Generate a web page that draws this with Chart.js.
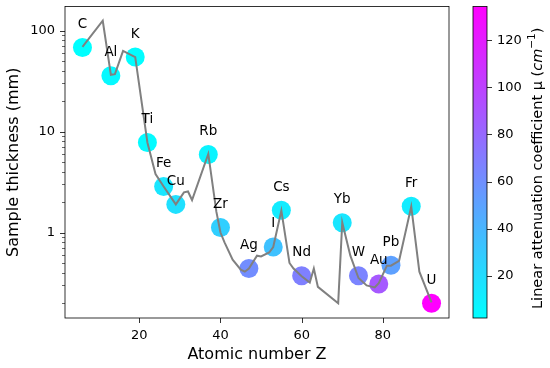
<!doctype html>
<html lang="en">
<head>
<meta charset="utf-8">
<title>Sample thickness vs atomic number</title>
<script src="https://cdn.jsdelivr.net/npm/chart.js@4.4.1/dist/chart.umd.min.js"></script>
<style>
    body { margin: 0; background: #fff; }
    #wrap { width: 550px; height: 368px; position: relative; }
</style>
</head>
<body>
<div id="wrap"><canvas id="myChart"></canvas></div>
<script>
// labelled elements (scatter markers)
const elements  = ['C', 'Al', 'K', 'Ti', 'Fe', 'Cu', 'Rb', 'Zr', 'Ag', 'I', 'Cs', 'Nd', 'Yb', 'W', 'Au', 'Pb', 'Fr', 'U'];
const elementZ  = [6, 13, 19, 22, 26, 29, 37, 40, 47, 53, 55, 60, 70, 74, 79, 82, 87, 92];
const thickness = [68, 35.7, 54.6, 7.8, 2.86, 1.9, 5.93, 1.12, 0.44, 0.72, 1.66, 0.373, 1.25, 0.373, 0.31, 0.475, 1.82, 0.2];
const mu        = [2.1, 5, 3, 4, 15, 18, 8, 27, 61, 34, 12, 68, 15, 66, 88, 51, 12, 134.3];

// gray curve
const curveZ = [6, 11, 13, 14, 16, 19, 22, 24, 26, 29, 31, 32, 33, 37, 39, 40, 41, 43, 45, 46, 47, 49, 50, 52, 53, 55, 57, 58, 60, 62, 63, 64, 69, 70, 72, 74, 76, 78, 79, 81, 82, 84, 87, 89, 92];
const curveT = [69, 125, 36.5, 37, 63, 54.6, 7.8, 3.8, 2.86, 1.9, 2.5, 2.55, 2.1, 6.0, 1.6, 1.0, 0.8, 0.54, 0.43, 0.41, 0.44, 0.59, 0.58, 0.635, 0.72, 1.65, 0.5, 0.44, 0.37, 0.32, 0.44, 0.29, 0.2, 1.26, 0.59, 0.355, 0.30, 0.286, 0.316, 0.47, 0.47, 0.525, 1.81, 0.41, 0.204];

// ticks
const xTicks = [20, 40, 60, 80];
const yTicks = [1, 10, 100];
const cbarTicks = [20, 40, 60, 80, 100, 120];

const FONT = 'DejaVu Sans';
const muMin = Math.min(...mu);
const muMax = Math.max(...mu);

// matplotlib "cool" colormap
function cool(v) {
    const t = (v - muMin) / (muMax - muMin);
    return 'rgb(' + Math.round(255 * t) + ',' + Math.round(255 * (1 - t)) + ',255)';
}

const extras = {
    id: 'extras',
    afterDraw(chart) {
        const ctx = chart.ctx;
        const a = chart.chartArea;
        const x = chart.scales.x, y = chart.scales.y;
        ctx.save();

        // element names above the markers
        ctx.fillStyle = '#000';
        ctx.font = '13.5px "' + FONT + '"';
        ctx.textAlign = 'center';
        ctx.textBaseline = 'middle';
        elements.forEach(function (el, i) {
            ctx.fillText(el, x.getPixelForValue(elementZ[i]), y.getPixelForValue(thickness[i]) - 23);
        });

        // frame
        ctx.strokeStyle = '#000';
        ctx.lineWidth = 0.8;
        ctx.strokeRect(a.left, a.top, a.right - a.left, a.bottom - a.top);

        // y tick labels
        ctx.font = '13px "' + FONT + '"';
        ctx.textAlign = 'right';
        yTicks.forEach(function (v) {
            ctx.fillText(String(v), a.left - 10, y.getPixelForValue(v));
        });

        // tick marks
        ctx.beginPath();
        xTicks.forEach(function (v) {
            const px = Math.round(x.getPixelForValue(v)) + 0.5;
            ctx.moveTo(px, a.bottom); ctx.lineTo(px, a.bottom + 5);
        });
        yTicks.forEach(function (v) {
            const py = Math.round(y.getPixelForValue(v)) + 0.5;
            ctx.moveTo(a.left, py); ctx.lineTo(a.left - 5, py);
        });
        ctx.stroke();
        ctx.beginPath();
        ctx.lineWidth = 0.6;
        for (let e = -1; e <= 2; e++) {
            for (let m = 2; m <= 9; m++) {
                const v = m * Math.pow(10, e);
                if (v < y.min || v > y.max) continue;
                const py = Math.round(y.getPixelForValue(v)) + 0.5;
                ctx.moveTo(a.left, py); ctx.lineTo(a.left - 3, py);
            }
        }
        ctx.stroke();

        // colorbar
        const c0 = 473, c1 = 487;
        const g = ctx.createLinearGradient(0, a.bottom, 0, a.top);
        g.addColorStop(0, cool(muMin));
        g.addColorStop(1, cool(muMax));
        ctx.fillStyle = g;
        ctx.fillRect(c0, a.top, c1 - c0, a.bottom - a.top);
        ctx.lineWidth = 0.8;
        ctx.strokeStyle = '#000';
        ctx.strokeRect(c0, a.top, c1 - c0, a.bottom - a.top);

        ctx.font = '13px "' + FONT + '"';
        ctx.fillStyle = '#000';
        ctx.textAlign = 'left';
        ctx.beginPath();
        cbarTicks.forEach(function (v) {
            const py = a.bottom - (v - muMin) / (muMax - muMin) * (a.bottom - a.top);
            ctx.moveTo(c1, Math.round(py) + 0.5); ctx.lineTo(c1 + 5, Math.round(py) + 0.5);
            ctx.fillText(String(v), 497, py);
        });
        ctx.stroke();

        // colorbar label with mathtext part
        const parts = [
            { t: 'Linear attenuation coefficient \u03bc (', f: '14.5px "' + FONT + '"', dy: 0 },
            { t: 'cm', f: 'italic 14.5px "' + FONT + '"', dy: 0 },
            { t: '\u22121', f: '10.5px "' + FONT + '"', dy: -5.5 },
            { t: ')', f: '14.5px "' + FONT + '"', dy: 0 }
        ];
        let total = 0;
        parts.forEach(function (p) { ctx.font = p.f; p.w = ctx.measureText(p.t).width; total += p.w; });
        ctx.translate(538, (a.top + a.bottom) / 2 + 6);
        ctx.rotate(-Math.PI / 2);
        ctx.textBaseline = 'middle';
        let cx = -total / 2;
        parts.forEach(function (p) {
            ctx.font = p.f;
            ctx.fillText(p.t, cx, p.dy);
            cx += p.w;
        });
        ctx.restore();
    }
};

const ctx = document.getElementById('myChart');
const myChart = new Chart(ctx, {
    type: 'scatter',
    data: {
        datasets: [{
            label: 'curve',
            data: curveZ.map(function (z, i) { return { x: z, y: curveT[i] }; }),
            showLine: true,
            borderColor: '#808080',
            borderWidth: 2,
            pointRadius: 0,
            tension: 0
        }, {
            label: 'elements',
            data: elementZ.map(function (z, i) { return { x: z, y: thickness[i] }; }),
            backgroundColor: mu.map(cool),
            borderWidth: 0,
            pointRadius: 9.5,
            pointHoverRadius: 9.5
        }]
    },
    options: {
        responsive: true,
        maintainAspectRatio: false,
        animation: false,
        layout: { autoPadding: false, padding: { top: 6.5, right: 101, left: 0, bottom: 0 } },
        plugins: { legend: { display: false }, tooltip: { enabled: false } },
        scales: {
            x: {
                type: 'linear',
                min: 1.7,
                max: 96.3,
                grid: { display: false, drawTicks: false },
                border: { display: false },
                afterBuildTicks: function (s) { s.ticks = xTicks.map(function (v) { return { value: v }; }); },
                afterFit: function (s) { s.height = 50; },
                ticks: { padding: 10, color: '#000', maxRotation: 0, font: { family: FONT, size: 13 } },
                title: { display: true, text: 'Atomic number Z', color: '#000', font: { family: FONT, size: 16 }, padding: { top: 0, bottom: 4 } }
            },
            y: {
                type: 'logarithmic',
                min: 0.1426,
                max: 173,
                grid: { display: false, drawTicks: false },
                border: { display: false },
                afterFit: function (s) { s.width = 65; },
                ticks: { display: false },
                title: { display: true, text: 'Sample thickness (mm)', color: '#000', font: { family: FONT, size: 16 }, padding: { top: 4, bottom: 0 } }
            }
        }
    },
    plugins: [extras]
});
</script>
</body>
</html>
